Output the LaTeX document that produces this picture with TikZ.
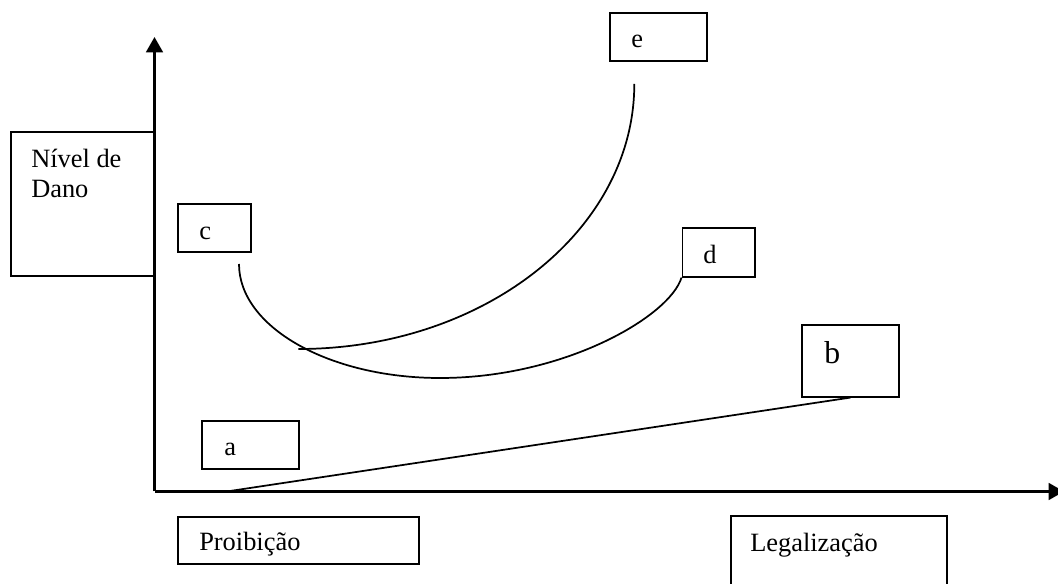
\documentclass[tikz,border=0pt]{standalone}
\usepackage{fontspec}
\setmainfont{Liberation Serif}
\usetikzlibrary{arrows.meta}

\tikzset{
  caixa/.style={draw, line width=1.3pt, inner sep=0pt},
  texto/.style={anchor=base west, inner sep=0pt, font=\fontsize{19.8}{23}\selectfont},
  eixo/.style={line width=2pt, -{Triangle[length=11.5pt,width=12.5pt]}},
  curva/.style={line width=1.3pt}
}

\begin{document}
\begin{tikzpicture}[x=0.75pt,y=0.75pt,yscale=-1,xscale=1]
\useasboundingbox (0,0) rectangle (1058,584);

%Shape: Rectangle
\node[caixa, minimum width=108pt, minimum height=108pt] (nivel) at (83,204) {};
%Shape: Rectangle
\node[caixa, minimum width=54.3pt, minimum height=36pt] (c) at (214.5,228.3) {};
%Shape: Rectangle
\node[caixa, minimum width=72.5pt, minimum height=36pt] (e) at (658.3,36.7) {};
%Shape: Rectangle
\node[caixa, minimum width=54.5pt, minimum height=36.3pt] (d) at (718.7,252.5) {};
%Shape: Rectangle
\node[caixa, minimum width=72.3pt, minimum height=54pt] (b) at (850.5,360.7) {};
%Shape: Rectangle
\node[caixa, minimum width=72.3pt, minimum height=36pt] (a) at (250.5,444.7) {};
%Shape: Rectangle
\node[caixa, minimum width=180.3pt, minimum height=35.7pt] (proib) at (298.5,540.5) {};
%Shape: Rectangle
\node[caixa, minimum width=162pt, minimum height=55.5pt] (legal) at (838.7,553) {};

%Axes
\coordinate (origem) at (154.5,491.5);
\coordinate (topoY) at (154.5,37);
\coordinate (fimX) at (1064,491.5);
\draw[eixo] (origem) -- (topoY);
\draw[eixo] (origem) -- (fimX);

%Straight Lines
\coordinate (inicioAB) at (226.7,491.5);
\draw[curva] (inicioAB) -- (b.south);

%Curve Lines
\coordinate (inicioCD) at (239,264);
\coordinate (fundoCD) at (440,378);
\draw[curva] (inicioCD) .. controls (239,327) and (329,378) .. (fundoCD)
  .. controls (565,378) and (670,316) .. (d.south west);

%Curve Lines
\coordinate (inicioE) at (634.3,84);
\coordinate (fimE) at (298.3,349);
\draw[curva] (inicioE) .. controls (634.3,230.4) and (483.9,349) .. (fimE);

% Text Node
\node[texto] (txtNivel) at (31,168) {Nível de};
% Text Node
\node[texto] (txtDano) at (31,198) {Dano};
% Text Node
\node[texto] (txtC) at (199,240) {c};
% Text Node
\node[texto] (txtE) at (631,48) {e};
% Text Node
\node[texto] (txtD) at (703,264) {d};
% Text Node
\node[texto, font=\fontsize{23.8}{28}\selectfont] (txtB) at (824,364) {b};
% Text Node
\node[texto] (txtA) at (224,456) {a};
% Text Node
\node[texto] (txtProib) at (199,551) {Proibição};
% Text Node
\node[texto] (txtLegal) at (750,552) {Legalização};

\end{tikzpicture}
\end{document}
